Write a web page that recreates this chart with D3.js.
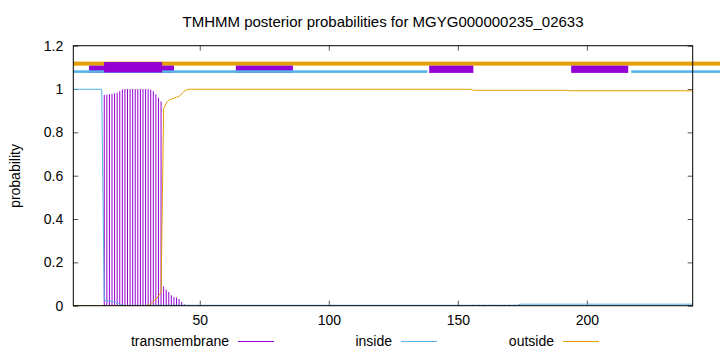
<!DOCTYPE html>
<html>
<head>
<meta charset="utf-8">
<script src="https://cdn.jsdelivr.net/npm/d3@7"></script>
<style>
  body { margin: 0; background: #fff; }
  svg { display: block; font-family: "Liberation Sans", Arial, sans-serif; }
</style>
</head>
<body>
<div id="chart"></div>
<script>
// sequence positions and posterior values
var seqStart = 1, seqEnd = 241;
var xTicks = [50, 100, 150, 200];
var yTicks = [0, 0.2, 0.4, 0.6, 0.8, 1, 1.2];

// transmembrane impulses: [position, probability]
var tmPos = [13,14,15,16,17,18,19,20,21,22,23,24,25,26,27,28,29,30,31,32,33,34,35,36,37,38,39,40,41,42,43,44,
             156,158,160,162,164,166,168,170,172,174];
var tmProb = [0.973,0.974,0.976,0.978,0.980,0.983,0.990,0.998,1,1,1,1,1,1,1,1,1,1,0.997,0.990,0.976,0.960,0.943,
              0.089,0.074,0.063,0.048,0.040,0.038,0.031,0.017,0.006,
              0.004,0.004,0.004,0.004,0.004,0.004,0.004,0.004,0.004,0.004];

// inside / outside lines: breakpoints [position, probability]
var insidePts = [[1,0.999],[12,0.999],[13,0.025],[15,0.021],[17,0.018],[18,0.012],[19,0.006],[20,0.002],
                 [173,0.002],[174,0.007],[241,0.007]];
var outsidePts = [[1,0],[29,0],[30,0.002],[31,0.008],[32,0.02],[33,0.03],[34,0.045],[35,0.06],[36,0.91],
                  [37,0.935],[38,0.948],[39,0.953],[40,0.958],[41,0.962],[42,0.966],[43,0.978],[44,0.99],
                  [45,0.997],[46,0.999],[155,0.999],[156,0.994],[192,0.994],[193,0.992],[241,0.992]];

// predicted topology strip at the top: [from, to]
var outsideBar = [[1, 252]];
var insideBar = [[1, 138.2], [217.2, 252]];
var tmBoxes = [[7.1, 40.0], [64, 86.1], [138.9, 156.0], [193.9, 216.0]];
var tmCore = [[12.9, 35.4]];

var colTM = "#9400d3", colIn = "#56b4e9", colOut = "#e69f00";

var w = 720, h = 352;
var svg = d3.select("#chart").append("svg").attr("width", w).attr("height", h);

var x = d3.scaleLinear().domain([seqStart, seqEnd]).range([73.3, 692.7]);
var y = d3.scaleLinear().domain([0, 1.2]).range([305.7, 45.7]);

svg.append("defs").append("clipPath").attr("id", "plot")
  .append("rect").attr("x", x(seqStart)).attr("y", y(1.2)).attr("width", x(seqEnd) - x(seqStart)).attr("height", y(0) - y(1.2));

// axes with inward ticks, mirrored on the other side
var fmt = d3.format("~g");
svg.append("g").attr("transform", "translate(0," + y(0) + ")")
  .call(d3.axisBottom(x).tickValues(xTicks).tickSize(-5).tickPadding(9))
  .call(function(g) { g.select(".domain").remove(); });
svg.append("g").attr("transform", "translate(0," + y(1.2) + ")")
  .call(d3.axisTop(x).tickValues(xTicks).tickSize(-5).tickFormat(""))
  .call(function(g) { g.select(".domain").remove(); });
svg.append("g").attr("transform", "translate(" + x(seqStart) + ",0)")
  .call(d3.axisLeft(y).tickValues(yTicks).tickSize(-5).tickPadding(10).tickFormat(fmt))
  .call(function(g) { g.select(".domain").remove(); });
svg.append("g").attr("transform", "translate(" + x(seqEnd) + ",0)")
  .call(d3.axisRight(y).tickValues(yTicks).tickSize(-5).tickFormat(""))
  .call(function(g) { g.select(".domain").remove(); });
svg.selectAll(".tick line").attr("stroke", "#555");
svg.selectAll(".tick text").attr("font-size", 14).attr("font-family", "Liberation Sans, Arial, sans-serif").attr("fill", "#000");

// curves
var plot = svg.append("g").attr("clip-path", "url(#plot)");
plot.selectAll("line.tm")
  .data(tmPos)
  .enter()
  .append("line")
  .attr("class", "tm")
  .attr("x1", function(d) { return x(d); })
  .attr("x2", function(d) { return x(d); })
  .attr("y1", y(0))
  .attr("y2", function(d, i) { return y(tmProb[i]); })
  .attr("stroke", colTM)
  .attr("stroke-width", 1);

var line = d3.line().x(function(d) { return x(d[0]); }).y(function(d) { return y(d[1]); });
plot.append("path").datum(insidePts).attr("d", line).attr("fill", "none").attr("stroke", colIn).attr("stroke-width", 1);
plot.append("path").datum(outsidePts).attr("d", line).attr("fill", "none").attr("stroke", colOut).attr("stroke-width", 1);

// topology strip
function band(data, top, bottom, color) {
  svg.append("g").selectAll("rect")
    .data(data)
    .enter()
    .append("rect")
    .attr("x", function(d) { return x(d[0]); })
    .attr("width", function(d) { return x(d[1]) - x(d[0]); })
    .attr("y", y(top))
    .attr("height", y(bottom) - y(top))
    .attr("fill", color);
}
band(outsideBar, 1.1265, 1.108, colOut);
band(tmBoxes, 1.108, 1.0745, colTM);
band(insideBar, 1.0865, 1.0745, colIn);
band(tmCore, 1.1245, 1.0765, colTM);

// border
svg.append("rect")
  .attr("x", x(seqStart)).attr("y", y(1.2))
  .attr("width", x(seqEnd) - x(seqStart)).attr("height", y(0) - y(1.2))
  .attr("fill", "none").attr("stroke", "#000").attr("stroke-width", 1);

// title and labels
svg.append("text").attr("x", 383).attr("y", 27).attr("text-anchor", "middle")
  .attr("font-size", 15).text("TMHMM posterior probabilities for MGYG000000235_02633");
svg.append("text").attr("transform", "translate(20,176) rotate(-90)").attr("text-anchor", "middle")
  .attr("font-size", 14).text("probability");

// legend
var legend = [["transmembrane", colTM, 229, 238], ["inside", colIn, 392, 401], ["outside", colOut, 554, 563]];
var lg = svg.append("g").selectAll("g").data(legend).enter().append("g");
lg.append("text").attr("x", function(d) { return d[2]; }).attr("y", 346).attr("text-anchor", "end")
  .attr("font-size", 14).text(function(d) { return d[0]; });
lg.append("line").attr("x1", function(d) { return d[3]; }).attr("x2", function(d) { return d[3] + 36; })
  .attr("y1", 341.5).attr("y2", 341.5).attr("stroke", function(d) { return d[1]; }).attr("stroke-width", 1);
</script>
</body>
</html>
